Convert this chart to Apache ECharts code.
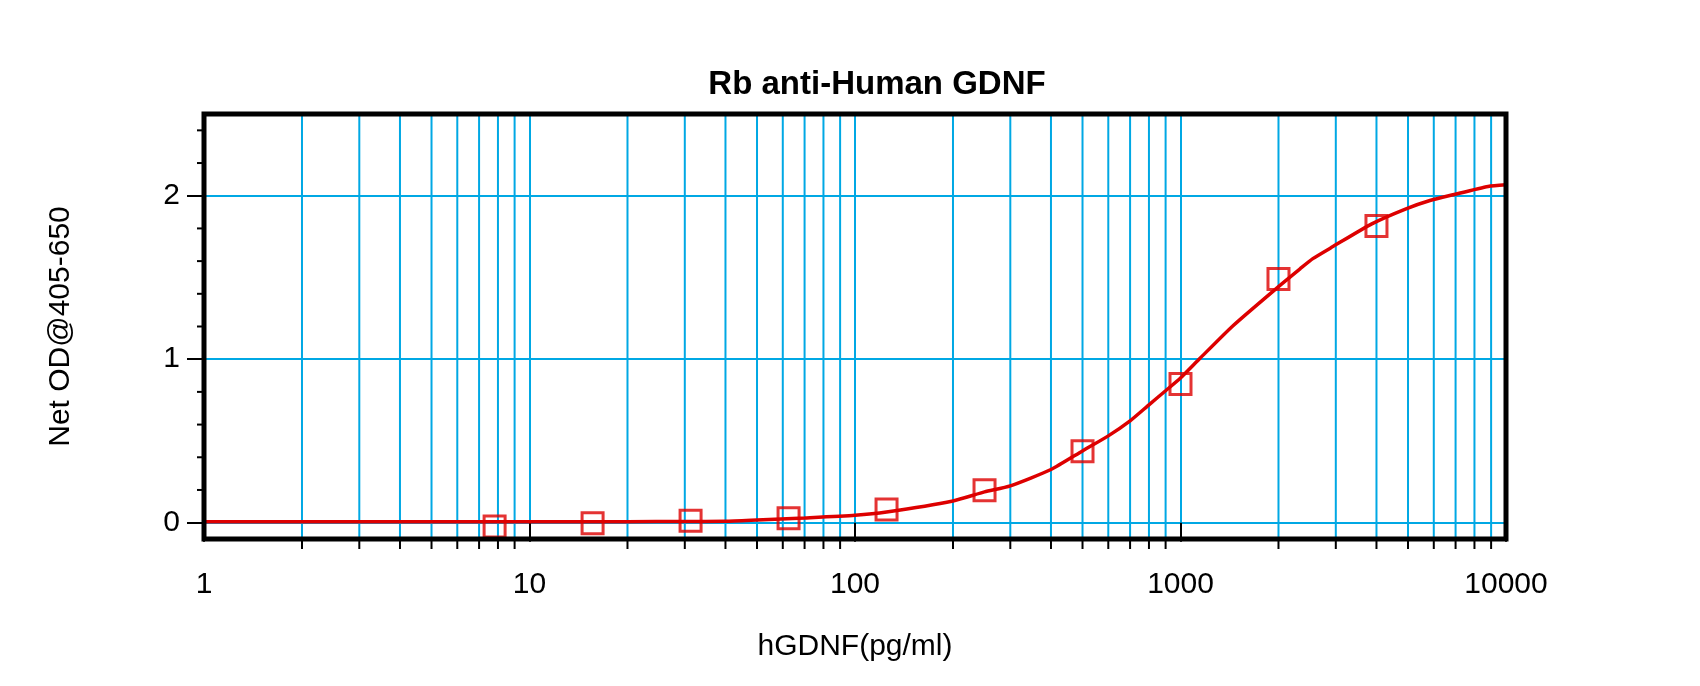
<!DOCTYPE html>
<html>
<head>
<meta charset="utf-8">
<script src="https://cdn.jsdelivr.net/npm/echarts@6/dist/echarts.min.js"></script>
<style>
html,body{margin:0;padding:0;background:#fff;}
#chart{width:1700px;height:686px;}
</style>
</head>
<body>
<div id="chart"></div>
<script>
// ---- data ----
var pointX = [7.8125, 15.625, 31.25, 62.5, 125, 250, 500, 1000, 2000, 4000];
var pointY = [-0.023, -0.003, 0.012, 0.027, 0.080, 0.198, 0.437, 0.848, 1.491, 1.815];

var curveX = [1, 5, 10, 20, 30, 40, 50, 70, 100, 125, 200, 250, 300, 400, 500, 600, 700, 800, 900, 1000, 1150, 1450, 2000, 2330, 2550, 2940, 3870, 4930, 5840, 6870, 8810, 10000];
var curveY = [0.006, 0.006, 0.006, 0.006, 0.007, 0.008, 0.016, 0.029, 0.045, 0.065, 0.133, 0.188, 0.225, 0.325, 0.439, 0.531, 0.623, 0.721, 0.807, 0.885, 1.007, 1.205, 1.444, 1.553, 1.615, 1.689, 1.828, 1.920, 1.971, 2.006, 2.057, 2.067];

var xMajorTicks = [1, 10, 100, 1000, 10000];
var xMinorTicks = [2, 3, 4, 5, 6, 7, 8, 9,
                   20, 30, 40, 50, 60, 70, 80, 90,
                   200, 300, 400, 500, 600, 700, 800, 900,
                   2000, 3000, 4000, 5000, 6000, 7000, 8000, 9000];
var yMajorTicks = [0, 1, 2];
var yMinorTicks = [0.2, 0.4, 0.6, 0.8, 1.2, 1.4, 1.6, 1.8, 2.2, 2.4];

var titleText = 'Rb anti-Human GDNF';
var xName = 'hGDNF(pg/ml)';
var yName = 'Net OD@405-650';

// ---- chart ----
var FONT = '"Liberation Sans", Arial, sans-serif';
var GRIDC = '#00a8e4';
var RED = '#dd0000';
var Y_MIN = -0.1, Y_MAX = 2.5;

var pointData = pointX.map(function (x, i) { return [x, pointY[i]]; });
var curveData = curveX.map(function (x, i) { return [x, curveY[i]]; });
var xMinorData = xMinorTicks.map(function (v) { return [v, 0]; });
var yMinorData = yMinorTicks.map(function (v) { return [1, v]; });

var chart = echarts.init(document.getElementById('chart'));
chart.setOption({
  animation: false,
  backgroundColor: '#fff',
  title: {
    text: titleText,
    left: 872,
    top: 63,
    textAlign: 'center',
    textStyle: { fontFamily: FONT, fontSize: 33, fontWeight: 'bold', color: '#000' }
  },
  grid: {
    left: 204, right: 194, top: 114, bottom: 147,
    show: true, borderColor: '#000', borderWidth: 5, backgroundColor: 'transparent',
    z: 10
  },
  xAxis: {
    type: 'log', logBase: 10, min: 1, max: 10000,
    name: xName, nameLocation: 'middle', nameGap: 93,
    nameTextStyle: { fontFamily: FONT, fontSize: 30, color: '#000' },
    axisLine: { show: false },
    axisTick: { show: true, length: 19, lineStyle: { color: '#000', width: 2 } },
    axisLabel: {
      fontFamily: FONT, fontSize: 30, color: '#000', margin: 31,
      formatter: function (v) { return String(v); }
    },
    splitLine: { show: true, lineStyle: { color: GRIDC, width: 2 } },
    minorTick: { show: false }, minorSplitLine: { show: false }
  },
  yAxis: {
    type: 'value', min: Y_MIN, max: Y_MAX,
    name: yName, nameLocation: 'middle', nameGap: 128, nameRotate: 90,
    nameTextStyle: { fontFamily: FONT, fontSize: 30, color: '#000' },
    axisLine: { show: false },
    axisTick: { show: true, length: 17, customValues: yMajorTicks, lineStyle: { color: '#000', width: 2 } },
    axisLabel: { fontFamily: FONT, fontSize: 30, color: '#000', margin: 24, customValues: yMajorTicks },
    splitLine: { show: true, lineStyle: { color: GRIDC, width: 2 } }
  },
  series: [
    {
      type: 'custom', z: 1, silent: true, clip: false,
      data: xMinorData,
      encode: { x: 0, y: 1 },
      renderItem: function (params, api) {
        var v = api.value(0);
        var top = api.coord([v, Y_MAX]);
        var bot = api.coord([v, Y_MIN]);
        return {
          type: 'group',
          children: [
            { type: 'line', shape: { x1: bot[0], y1: bot[1], x2: top[0], y2: top[1] }, style: { stroke: GRIDC, lineWidth: 2 } },
            { type: 'line', shape: { x1: bot[0], y1: bot[1], x2: bot[0], y2: bot[1] + 10 }, style: { stroke: '#000', lineWidth: 2 } }
          ]
        };
      }
    },
    {
      type: 'custom', z: 1, silent: true, clip: false,
      data: yMinorData,
      encode: { x: 0, y: 1 },
      renderItem: function (params, api) {
        var p = api.coord([api.value(0), api.value(1)]);
        return { type: 'line', shape: { x1: p[0] - 7, y1: p[1], x2: p[0], y2: p[1] }, style: { stroke: '#000', lineWidth: 2 } };
      }
    },
    {
      type: 'line', z: 3, data: curveData, smooth: 0.2,
      showSymbol: false, symbol: 'none', silent: true,
      lineStyle: { color: RED, width: 3.5 }
    },
    {
      type: 'scatter', z: 4, data: pointData, symbol: 'rect', symbolSize: 21, silent: true,
      itemStyle: { color: 'rgba(0,0,0,0)', borderColor: RED, borderWidth: 3 }
    }
  ]
});
</script>
</body>
</html>
